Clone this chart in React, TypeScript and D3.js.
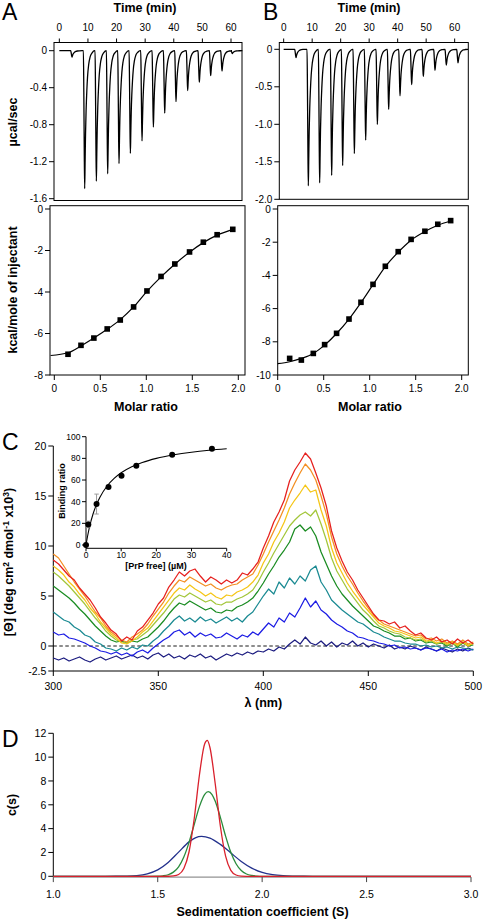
import React from 'react';
import * as d3 from 'd3';

const FONT = "'Liberation Sans', Arial, Helvetica, sans-serif";

// ---------- Panel A / B : ITC raw thermograms ----------
const injTimesA = [4.43, 8.86, 12.94, 16.9, 20.86, 24.83, 28.9, 32.87, 36.83, 40.78, 44.86, 48.93, 52.9, 56.86, 60.47];
const injDepthA = [0.07, 1.49, 1.41, 1.33, 1.22, 1.11, 0.975, 0.825, 0.675, 0.55, 0.43, 0.34, 0.27, 0.22, 0.03];
const injTimesB = [4.33, 8.65, 12.63, 16.84, 20.7, 24.8, 28.77, 32.87, 36.84, 40.82, 44.91, 49.0, 53.1, 57.07, 61.17];
const injDepthB = [0.11, 1.82, 1.78, 1.68, 1.55, 1.39, 1.21, 1.0, 0.8, 0.62, 0.47, 0.36, 0.28, 0.21, 0.18];
// shape of one injection peak (time offset in min, fraction of peak depth)
const peakProfileDt = [-0.45, -0.3, -0.15, 0, 0.15, 0.3, 0.5, 0.75, 1.0, 1.4, 1.9, 2.6, 3.5];
const peakProfileFrac = [0, 0.3, 0.72, 1, 0.8, 0.6, 0.43, 0.29, 0.19, 0.1, 0.045, 0.015, 0];

const timeTicks = [0, 10, 20, 30, 40, 50, 60];
const rawTicksA = [0, -0.4, -0.8, -1.2, -1.6];
const rawTicksB = [0, -0.5, -1.0, -1.5, -2.0];

// ---------- Panel A / B : integrated heats ----------
const molarA = [0.149, 0.29, 0.43, 0.575, 0.717, 0.862, 1.007, 1.16, 1.31, 1.47, 1.62, 1.77, 1.94];
const heatA = [-7.0, -6.57, -6.22, -5.78, -5.35, -4.72, -3.95, -3.25, -2.65, -2.07, -1.6, -1.24, -0.98];
const fitMolarA = [-0.04, 0.15, 0.29, 0.43, 0.575, 0.717, 0.862, 1.007, 1.16, 1.31, 1.47, 1.62, 1.77, 1.94];
const fitHeatA = [-7.06, -6.93, -6.6, -6.22, -5.8, -5.33, -4.72, -3.97, -3.27, -2.66, -2.08, -1.62, -1.26, -0.98];

const molarB = [0.13, 0.257, 0.387, 0.51, 0.64, 0.775, 0.905, 1.036, 1.17, 1.31, 1.45, 1.6, 1.74, 1.88];
const heatB = [-9.0, -9.1, -8.7, -8.17, -7.49, -6.63, -5.62, -4.54, -3.45, -2.57, -1.83, -1.34, -0.92, -0.7];
const fitMolarB = [0, 0.13, 0.257, 0.387, 0.51, 0.64, 0.775, 0.905, 1.036, 1.17, 1.31, 1.45, 1.6, 1.74, 1.88];
const fitHeatB = [-9.32, -9.2, -9.0, -8.7, -8.2, -7.5, -6.63, -5.64, -4.56, -3.47, -2.6, -1.88, -1.36, -0.98, -0.72];

const molarTicks = [0, 0.5, 1.0, 1.5, 2.0];
const heatTicksA = [0, -2, -4, -6, -8];
const heatTicksB = [0, -2, -4, -6, -8, -10];

// ---------- Panel C : CD spectra ----------
const wavelengths = d3.range(300, 500.01, 2.5);
const cdRed = [
  8.6, 8.2, 7.6, 7.0, 6.6, 5.8, 5.2, 4.6, 3.8, 2.9,
  2.3, 1.6, 1.2, 0.5, 0.9, 0.6, 1.5, 1.9, 2.6, 3.3,
  4.2, 4.8, 5.9, 6.6, 7.4, 7.0, 7.5, 7.7, 7.0, 6.4,
  6.9, 6.6, 6.2, 6.6, 6.3, 6.6, 7.3, 7.1, 7.7, 8.4,
  9.8, 11.0, 12.4, 13.4, 14.6, 16.5, 17.6, 18.4, 19.3, 18.7,
  17.3, 15.8, 14.0, 11.5, 9.8, 8.5, 7.4, 6.6, 5.6, 4.8,
  4.0, 3.2, 2.6, 2.5, 2.2, 2.4, 1.8, 2.0, 1.5, 1.1,
  1.3, 0.8, 0.6, 0.9, 0.4, 0.6, 0.2, 0.7, 0.3, 0.6,
  0.2];
const cdOrange = [
  9.2, 8.8, 8.0, 7.2, 6.4, 5.7, 5.0, 4.2, 3.4, 2.8,
  2.0, 1.4, 1.0, 0.6, 0.4, 0.9, 1.2, 1.6, 2.2, 3.0,
  3.7, 4.4, 5.3, 6.0, 6.6, 6.4, 6.9, 6.6, 6.3, 6.0,
  6.2, 5.8, 5.6, 5.9, 6.1, 6.2, 6.6, 6.9, 7.2, 8.1,
  9.2, 10.4, 11.5, 12.6, 13.8, 15.2, 16.3, 17.3, 18.2, 17.6,
  16.6, 15.0, 13.2, 10.9, 9.2, 8.0, 7.0, 6.2, 5.3, 4.5,
  3.8, 3.1, 2.6, 2.2, 2.0, 1.8, 1.6, 1.4, 1.2, 1.0,
  1.1, 0.7, 0.8, 0.5, 0.7, 0.3, 0.5, 0.2, 0.6, 0.2,
  0.4];
const cdYellow = [
  8.0, 7.6, 7.1, 6.4, 5.9, 5.2, 4.6, 3.8, 3.2, 2.4,
  1.8, 1.2, 0.8, 0.3, 0.2, 0.5, 0.9, 1.4, 1.8, 2.5,
  3.2, 3.9, 4.6, 5.3, 5.8, 5.6, 6.1, 5.7, 5.4, 5.0,
  5.3, 4.9, 4.7, 5.1, 5.0, 5.4, 5.6, 5.9, 6.4, 7.1,
  8.3, 9.2, 10.4, 11.3, 12.4, 13.8, 14.6, 15.3, 16.1, 15.4,
  15.6, 13.6, 12.0, 9.8, 8.3, 7.3, 6.3, 5.5, 4.8, 4.1,
  3.5, 2.9, 2.3, 2.0, 1.8, 1.5, 1.4, 1.2, 1.0, 0.8,
  0.9, 0.5, 0.6, 0.3, 0.5, 0.2, 0.4, 0.1, 0.4, 0.0,
  0.3];
const cdLime = [
  7.4, 7.0, 6.5, 6.0, 5.4, 4.8, 4.2, 3.5, 2.8, 2.2,
  1.5, 1.0, 0.6, 0.4, 0.3, 0.6, 0.7, 1.1, 1.5, 2.1,
  2.7, 3.3, 4.0, 4.7, 5.1, 4.9, 5.3, 5.0, 4.7, 4.4,
  4.6, 4.2, 4.1, 4.4, 4.4, 4.7, 4.9, 5.2, 5.6, 6.4,
  7.4, 8.3, 9.3, 10.2, 11.1, 12.0, 12.6, 13.1, 13.4, 13.0,
  13.6, 12.2, 10.6, 8.8, 7.5, 6.6, 5.7, 5.0, 4.3, 3.6,
  3.1, 2.5, 2.0, 1.8, 1.5, 1.3, 1.2, 0.9, 0.8, 0.6,
  0.7, 0.4, 0.5, 0.2, 0.4, 0.1, 0.3, 0.0, 0.4, 0.1,
  0.2];
const cdGreen = [
  6.0, 5.6, 5.2, 4.8, 4.3, 3.7, 3.2, 2.6, 2.0, 1.5,
  1.0, 0.6, 0.4, 0.5, 0.3, 0.5, 0.4, 0.7, 0.9, 1.4,
  1.9, 2.5, 3.2, 3.8, 4.3, 4.1, 4.5, 4.2, 3.9, 3.6,
  3.8, 3.4, 3.3, 3.6, 3.5, 3.9, 4.1, 4.4, 4.8, 5.5,
  6.3, 7.2, 8.0, 8.9, 9.6, 10.4, 11.7, 12.1, 11.5, 11.9,
  11.0, 9.4, 8.2, 7.0, 6.0, 5.2, 4.6, 4.0, 3.5, 3.0,
  2.5, 2.0, 1.8, 1.5, 1.3, 1.0, 1.0, 0.7, 0.8, 0.5,
  0.6, 0.3, 0.4, 0.2, 0.3, 0.0, 0.3, -0.1, 0.3, 0.0,
  0.1];
const cdTeal = [
  3.4, 3.0, 2.6, 2.4, 1.9, 1.6, 1.1, 0.9, 0.4, 0.2,
  -0.2, -0.3, -0.5, -0.2, -0.4, -0.1, -0.3, 0.1, 0.0, 0.5,
  0.9, 1.5, 2.0, 2.6, 3.0, 2.5, 2.8, 2.4, 2.9, 2.5,
  2.7, 2.3, 2.6, 2.9, 2.5, 2.8, 2.4, 3.0, 3.4, 4.2,
  5.0, 5.7, 5.2, 6.4, 5.8, 6.8, 6.2, 7.0, 6.5, 7.6,
  8.0, 6.4, 5.6, 4.6, 4.1, 3.6, 3.2, 2.8, 2.4, 2.2,
  1.8, 1.4, 1.2, 0.9, 0.7, 0.5, 0.5, 0.3, 0.2, 0.2,
  0.0, 0.1, -0.1, 0.0, -0.2, -0.1, -0.3, -0.1, -0.2, -0.3,
  -0.4];
const cdBlue = [
  1.4, 1.1, 1.2, 0.8, 0.7, 0.5, 0.3, 0.0, -0.2, -0.5,
  -0.6, -0.8, -0.6, -0.9, -0.7, -1.0, -0.6, -0.4, -0.7, -0.2,
  0.2, 0.6, 0.9, 1.4, 1.6, 1.1, 1.4, 0.9, 1.3, 1.0,
  1.2, 0.8, 0.9, 1.3, 1.0, 0.7, 1.1, 0.9, 1.4, 1.1,
  1.7, 2.3, 1.9, 2.8, 2.4, 3.3, 2.9, 3.8, 4.8, 3.9,
  4.5, 3.6, 3.2, 2.6, 2.2, 1.9, 1.5, 1.3, 0.9, 0.8,
  0.6, 0.5, 0.3, 0.2, 0.0, 0.1, -0.2, -0.1, -0.3, -0.2,
  -0.4, -0.2, -0.3, -0.5, -0.3, -0.6, -0.4, -0.5, -0.3, -0.5,
  -0.3];
const cdNavy = [
  -1.2, -1.4, -1.2, -1.5, -1.3, -1.1, -1.4, -1.6, -1.3, -1.1,
  -1.4, -1.2, -1.0, -1.3, -1.1, -0.9, -1.2, -1.0, -1.3, -0.9,
  -0.7, -1.1, -0.8, -1.2, -1.0, -1.3, -0.9, -1.1, -0.8, -1.2,
  -1.0, -1.4, -1.1, -0.8, -1.0, -0.7, -0.9, -0.6, -0.8, -0.5,
  -0.6, -0.3, -0.5, -0.1, -0.3, 0.2, 0.6, 0.2, 0.9, 0.3,
  0.1, 0.5, 0.0, 0.4, -0.1, 0.3, 0.1, 0.5, 0.0, 0.3,
  -0.1, 0.2, 0.0, -0.2, 0.1, -0.3, -0.1, -0.3, 0.0, -0.2,
  -0.4, -0.1, -0.3, -0.5, -0.2, -0.4, -0.6, -0.3, -0.5, -0.2,
  -0.4];
const cdSeries = [cdNavy, cdBlue, cdTeal, cdGreen, cdLime, cdYellow, cdOrange, cdRed];
const cdColors = ['#1c1c80', '#1c1ce4', '#1a8a92', '#1a8c22', '#a3c63a', '#f5c616', '#f38f22', '#e6201e'];
const cdYTicks = [20, 15, 10, 5, 0, -2.5];
const cdXTicks = [300, 350, 400, 450, 500];

// inset: binding ratio vs free PrP
const prpFree = [0, 0.66, 3.0, 6.4, 10.1, 14.3, 24.5, 35.8];
const bindingRatio = [0, 19, 37.8, 53.5, 64, 73.2, 83.4, 88.9];
const bindingErr = [0, 3, 9.2, 0, 0, 0, 0, 0];
const fitPrp = [0, 0.5, 1, 2, 3, 4, 6, 8, 10, 13, 16, 20, 25, 30, 35, 40];
const fitBinding = [0, 9, 16.7, 28.6, 37.5, 44.4, 54.5, 61.5, 66.7, 72.2, 76.2, 80, 83.3, 85.7, 87.5, 88.9];
const insetYTicks = [0, 20, 40, 60, 80, 100];
const insetXTicks = [0, 10, 20, 30, 40];

// ---------- Panel D : c(s) distributions ----------
const sBlue = [1.0, 1.25, 1.3, 1.35, 1.4, 1.45, 1.5, 1.55, 1.6, 1.65, 1.68, 1.71, 1.75, 1.8, 1.85, 1.9, 1.95, 2.0, 2.05, 2.1, 2.15, 2.2, 2.25, 3.0];
const cBlue = [0, 0, 0.003, 0.016, 0.063, 0.21, 0.54, 1.16, 2.03, 2.89, 3.23, 3.35, 3.21, 2.68, 1.96, 1.25, 0.69, 0.33, 0.14, 0.05, 0.016, 0.004, 0, 0];
const sGreen = [1.0, 1.45, 1.5, 1.525, 1.55, 1.575, 1.6, 1.625, 1.65, 1.675, 1.7, 1.725, 1.742, 1.76, 1.775, 1.8, 1.825, 1.85, 1.875, 1.9, 1.925, 1.95, 1.975, 2.0, 3.0];
const cGreen = [0, 0, 0.013, 0.044, 0.13, 0.35, 0.8, 1.62, 2.85, 4.37, 5.87, 6.88, 7.1, 6.86, 6.31, 4.94, 3.37, 2.01, 1.05, 0.48, 0.19, 0.07, 0.02, 0, 0];
const sRed = [1.0, 1.5, 1.55, 1.575, 1.6, 1.625, 1.65, 1.675, 1.7, 1.725, 1.7375, 1.75, 1.775, 1.8, 1.825, 1.85, 1.875, 1.9, 1.95, 3.0];
const cRed = [0, 0, 0.004, 0.03, 0.15, 0.65, 2.06, 4.87, 8.54, 11.13, 11.4, 10.81, 7.81, 4.2, 1.69, 0.5, 0.11, 0.02, 0, 0];
const csSeries = [
  { s: sBlue, c: cBlue, color: '#22308c' },
  { s: sGreen, c: cGreen, color: '#2a8c3c' },
  { s: sRed, c: cRed, color: '#d9202c' },
];
const csYTicks = [0, 2, 4, 6, 8, 10, 12];
const csXTicks = [1.0, 1.5, 2.0, 2.5, 3.0];

// ---------- helpers ----------
const fmt1 = (v: number) => (v === 0 ? '0' : v.toFixed(1));
const fmt0 = (v: number) => String(v);

function thermoPoints(times: number[], depths: number[], tEnd: number): [number, number][] {
  const pts: [number, number][] = [[0, 0]];
  times.forEach((tp, i) => {
    peakProfileDt.forEach((dt, k) => pts.push([tp + dt, -depths[i] * peakProfileFrac[k]]));
  });
  pts.push([tEnd, 0]);
  return pts;
}

type Sc = d3.ScaleLinear<number, number>;

function YTicks({ scale, ticks, x, fmt, len = 5, fs = 10, gap = 2 }: { scale: Sc; ticks: number[]; x: number; fmt: (v: number) => string; len?: number; fs?: number; gap?: number }) {
  return (
    <g>
      {ticks.map((t) => (
        <g key={t}>
          <line x1={x - len} x2={x} y1={scale(t)} y2={scale(t)} stroke="#000" strokeWidth={1} />
          <text x={x - len - gap} y={scale(t)} dy="0.36em" textAnchor="end" fontSize={fs}>{fmt(t)}</text>
        </g>
      ))}
    </g>
  );
}

function XTicks({ scale, ticks, y, fmt, len = 5, fs = 10, labelY, up = false, stroke = '#000' }: { scale: Sc; ticks: number[]; y: number; fmt: (v: number) => string; len?: number; fs?: number; labelY: number; up?: boolean; stroke?: string }) {
  return (
    <g>
      {ticks.map((t) => (
        <g key={t}>
          <line x1={scale(t)} x2={scale(t)} y1={y} y2={up ? y - len : y + len} stroke={stroke} strokeWidth={1} />
          <text x={scale(t)} y={labelY} textAnchor="middle" fontSize={fs}>{fmt(t)}</text>
        </g>
      ))}
    </g>
  );
}

export default function App() {
  // Panel A scales
  const xTA = d3.scaleLinear().domain([0, 60]).range([59.33, 231]);
  const yTA = d3.scaleLinear().domain([0, -1.6]).range([50.7, 198.7]);
  const xMA = d3.scaleLinear().domain([0, 2]).range([54.3, 238.3]);
  const yHA = d3.scaleLinear().domain([0, -8]).range([209, 375]);
  // Panel B scales
  const xTB = d3.scaleLinear().domain([0, 60]).range([283.67, 454.67]);
  const yTB = d3.scaleLinear().domain([0, -2]).range([49.3, 199.3]);
  const xMB = d3.scaleLinear().domain([0, 2]).range([277.7, 461.7]);
  const yHB = d3.scaleLinear().domain([0, -10]).range([209, 375]);
  // Panel C scales
  const xC = d3.scaleLinear().domain([300, 500]).range([53.3, 473.3]);
  const yC = d3.scaleLinear().domain([-2.5, 20]).range([671, 446]);
  const xI = d3.scaleLinear().domain([0, 40]).range([86, 226.7]);
  const yI = d3.scaleLinear().domain([0, 100]).range([545, 436.7]);
  // Panel D scales
  const xD = d3.scaleLinear().domain([1, 3]).range([53.3, 471]);
  const yD = d3.scaleLinear().domain([0, 12]).range([876.3, 733.3]);

  const thermoA = d3.line<[number, number]>().x((d) => xTA(d[0])).y((d) => yTA(d[1])).curve(d3.curveMonotoneX)(
    thermoPoints(injTimesA, injDepthA, xTA.invert(241.5))
  ) as string;
  const thermoB = d3.line<[number, number]>().x((d) => xTB(d[0])).y((d) => yTB(d[1])).curve(d3.curveMonotoneX)(
    thermoPoints(injTimesB, injDepthB, xTB.invert(467.8))
  ) as string;

  const fitA = d3.line<number>().x((d) => xMA(d)).y((_, i) => yHA(fitHeatA[i])).curve(d3.curveMonotoneX)(fitMolarA) as string;
  const fitB = d3.line<number>().x((d) => xMB(d)).y((_, i) => yHB(fitHeatB[i])).curve(d3.curveMonotoneX)(fitMolarB) as string;

  const cdLine = (vals: number[]) =>
    d3.line<number>().x((_, i) => xC(wavelengths[i])).y((d) => yC(d))(vals) as string;

  const insetFit = d3.line<number>().x((d) => xI(d)).y((_, i) => yI(fitBinding[i])).curve(d3.curveMonotoneX)(fitPrp) as string;

  const csLine = (s: number[], c: number[]) =>
    d3.line<number>().x((d) => xD(d)).y((_, i) => yD(c[i])).curve(d3.curveMonotoneX)(s) as string;

  const titleStyle = { fontSize: 12.5, fontWeight: 700 } as const;
  const sq = 5.6;

  return (
    <svg
      width={486}
      height={922}
      viewBox="0 0 486 922"
      style={{ position: 'absolute', left: 0, top: 0, background: '#fff' }}
      fontFamily={FONT}
    >
      <rect width={486} height={922} fill="#fff" />

      {/* ================= Panel A ================= */}
      <text x={2} y={20} fontSize={23}>A</text>
      <text x={145} y={12} textAnchor="middle" {...titleStyle}>Time (min)</text>
      <rect x={54} y={42.5} width={188} height={158} fill="none" stroke="#000" strokeWidth={1} />
      <XTicks scale={xTA} ticks={timeTicks} y={42.5} fmt={fmt0} up labelY={30.5} len={4} />
      <YTicks scale={yTA} ticks={rawTicksA} x={54} fmt={fmt1} />
      <path d={thermoA} fill="none" stroke="#000" strokeWidth={1.3} />
      <text transform="translate(17,122) rotate(-90)" textAnchor="middle" {...titleStyle}>µcal/sec</text>

      <rect x={50} y={205.7} width={195} height={169.3} fill="none" stroke="#000" strokeWidth={1} />
      <YTicks scale={yHA} ticks={heatTicksA} x={50} fmt={fmt0} />
      <XTicks scale={xMA} ticks={molarTicks} y={375} fmt={fmt1} labelY={392} />
      <path d={fitA} fill="none" stroke="#000" strokeWidth={1.2} />
      {molarA.map((m, i) => (
        <rect key={i} x={xMA(m) - sq / 2} y={yHA(heatA[i]) - sq / 2} width={sq} height={sq} fill="#000" />
      ))}
      <text transform="translate(17,290) rotate(-90)" textAnchor="middle" {...titleStyle}>kcal/mole of injectant</text>
      <text x={146} y={410.5} textAnchor="middle" {...titleStyle}>Molar ratio</text>

      {/* ================= Panel B ================= */}
      <text x={263} y={20} fontSize={23}>B</text>
      <text x={369} y={12} textAnchor="middle" {...titleStyle}>Time (min)</text>
      <rect x={279.3} y={42.5} width={189} height={156.8} fill="none" stroke="#000" strokeWidth={1} />
      <XTicks scale={xTB} ticks={timeTicks} y={42.5} fmt={fmt0} up labelY={30.5} len={4} />
      <YTicks scale={yTB} ticks={rawTicksB} x={279.3} fmt={fmt1} />
      <path d={thermoB} fill="none" stroke="#000" strokeWidth={1.3} />

      <rect x={277.7} y={205.7} width={190.6} height={169.3} fill="none" stroke="#000" strokeWidth={1} />
      <YTicks scale={yHB} ticks={heatTicksB} x={277.7} fmt={fmt0} />
      <XTicks scale={xMB} ticks={molarTicks} y={375} fmt={fmt1} labelY={392} />
      <path d={fitB} fill="none" stroke="#000" strokeWidth={1.2} />
      {molarB.map((m, i) => (
        <rect key={i} x={xMB(m) - sq / 2} y={yHB(heatB[i]) - sq / 2} width={sq} height={sq} fill="#000" />
      ))}
      <text x={370} y={410.5} textAnchor="middle" {...titleStyle}>Molar ratio</text>

      {/* ================= Panel C ================= */}
      <text x={2} y={450} fontSize={23}>C</text>
      <line x1={xC(300)} x2={xC(300)} y1={yC(20)} y2={yC(-2.5)} stroke="#000" strokeWidth={1} />
      <line x1={xC(300)} x2={xC(500)} y1={yC(-2.5)} y2={yC(-2.5)} stroke="#000" strokeWidth={1} />
      <YTicks scale={yC} ticks={cdYTicks} x={xC(300)} fmt={fmt0} fs={10.5} />
      <XTicks scale={xC} ticks={cdXTicks} y={yC(-2.5)} fmt={fmt0} labelY={690} fs={10.5} />
      <line x1={xC(300)} x2={xC(500)} y1={yC(0)} y2={yC(0)} stroke="#000" strokeWidth={0.9} strokeDasharray="3.5,2.5" />
      {cdSeries.map((vals, i) => (
        <path key={i} d={cdLine(vals)} fill="none" stroke={cdColors[i]} strokeWidth={1.25} strokeLinejoin="round" />
      ))}
      <text transform="translate(12.5,562) rotate(-90)" textAnchor="middle" {...titleStyle}>
        [Θ] (deg cm<tspan dy={-4} fontSize={8.5}>2</tspan>
        <tspan dy={4}> dmol</tspan>
        <tspan dy={-4} fontSize={8.5}>-1</tspan>
        <tspan dy={4}> x10</tspan>
        <tspan dy={-4} fontSize={8.5}>3</tspan>
        <tspan dy={4}>)</tspan>
      </text>
      <text x={263.3} y={707} textAnchor="middle" {...titleStyle}>λ (nm)</text>

      {/* inset */}
      <line x1={xI(0)} x2={xI(0)} y1={yI(100)} y2={548.3} stroke="#000" strokeWidth={1} />
      <line x1={xI(0)} x2={xI(40)} y1={548.3} y2={548.3} stroke="#000" strokeWidth={1} />
      <YTicks scale={yI} ticks={insetYTicks} x={xI(0)} fmt={fmt0} fs={8.5} len={4} gap={1.5} />
      <XTicks scale={xI} ticks={insetXTicks} y={548.3} fmt={fmt0} labelY={557.5} fs={8.5} len={3} />
      <path d={insetFit} fill="none" stroke="#000" strokeWidth={1.1} />
      {prpFree.map((p, i) =>
        bindingErr[i] > 0 ? (
          <g key={'e' + i} stroke="#9a9a9a" strokeWidth={1}>
            <line x1={xI(p)} x2={xI(p)} y1={yI(bindingRatio[i] - bindingErr[i])} y2={yI(bindingRatio[i] + bindingErr[i])} />
            <line x1={xI(p) - 2.2} x2={xI(p) + 2.2} y1={yI(bindingRatio[i] - bindingErr[i])} y2={yI(bindingRatio[i] - bindingErr[i])} />
            <line x1={xI(p) - 2.2} x2={xI(p) + 2.2} y1={yI(bindingRatio[i] + bindingErr[i])} y2={yI(bindingRatio[i] + bindingErr[i])} />
          </g>
        ) : null
      )}
      {prpFree.map((p, i) => (
        <circle key={i} cx={xI(p)} cy={yI(bindingRatio[i])} r={3} fill="#000" />
      ))}
      <text transform="translate(64.5,491) rotate(-90)" textAnchor="middle" fontSize={9} fontWeight={700}>Binding ratio</text>
      <text x={156} y={568.5} textAnchor="middle" fontSize={9} fontWeight={700}>[PrP free] (µM)</text>

      {/* ================= Panel D ================= */}
      <text x={2} y={747} fontSize={23}>D</text>
      <line x1={xD(1)} x2={xD(1)} y1={yD(12)} y2={yD(0)} stroke="#000" strokeWidth={1} />
      <YTicks scale={yD} ticks={csYTicks} x={xD(1)} fmt={fmt0} fs={10.5} />
      <line x1={xD(1)} x2={xD(3)} y1={yD(0) + 0.8} y2={yD(0) + 0.8} stroke="#777" strokeWidth={1} />
      <XTicks scale={xD} ticks={csXTicks} y={yD(0) + 0.8} fmt={fmt1} labelY={898} fs={10.5} stroke="#444" />
      {csSeries.map((sr, i) => (
        <path key={i} d={csLine(sr.s, sr.c)} fill="none" stroke={sr.color} strokeWidth={1.3} />
      ))}
      <text transform="translate(16,805) rotate(-90)" textAnchor="middle" {...titleStyle}>c(s)</text>
      <text x={262.5} y={916} textAnchor="middle" {...titleStyle}>Sedimentation coefficient (S)</text>
    </svg>
  );
}
